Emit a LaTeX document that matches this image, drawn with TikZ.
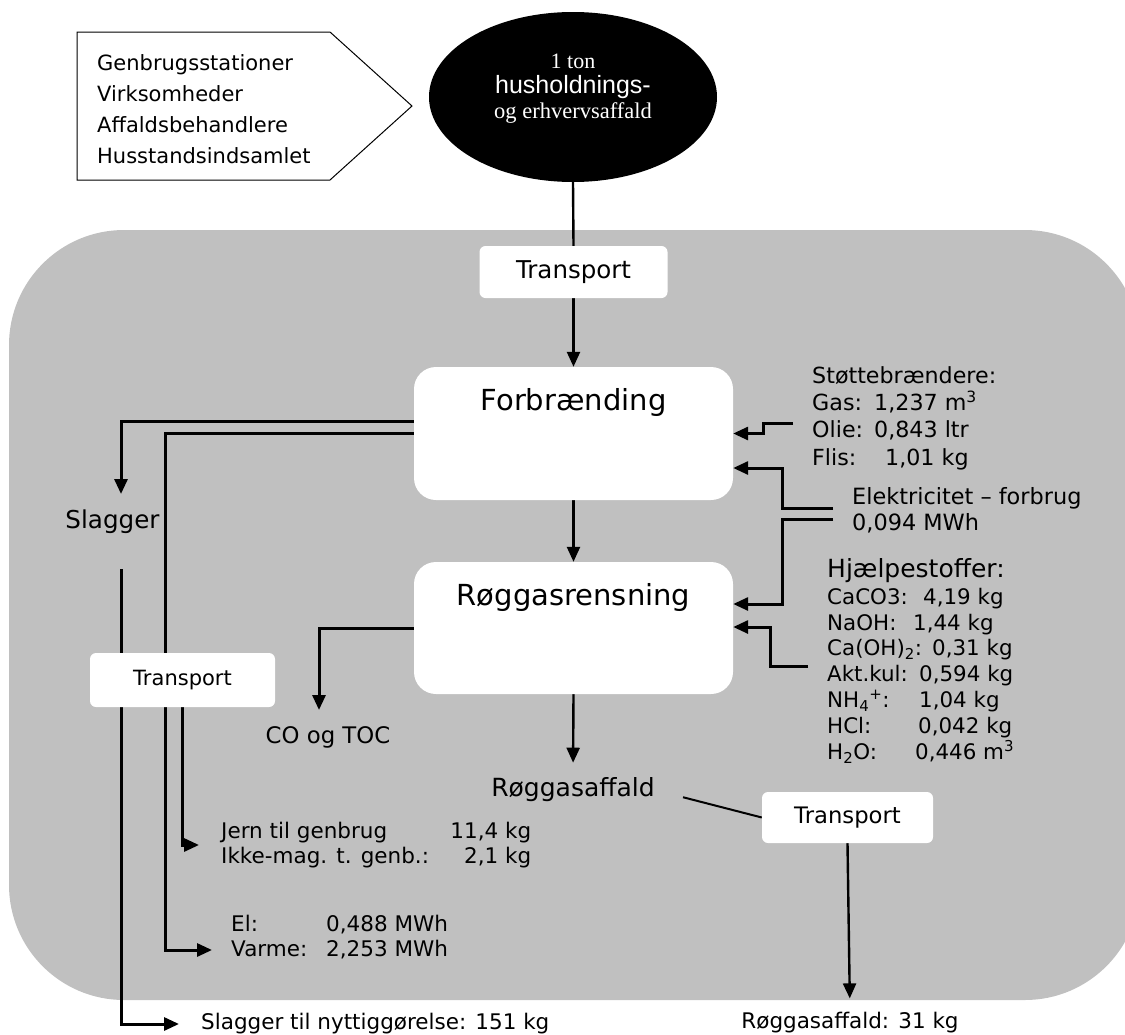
\documentclass[tikz,border=0pt]{standalone}
\usepackage{fontspec}
\setmainfont{DejaVu Sans}
\newfontfamily\serifE{Liberation Serif}
\newfontfamily\sansE{Liberation Sans}
\usetikzlibrary{shapes.geometric,arrows.meta,calc}
\definecolor{bggray}{RGB}{192,192,192}
\newcommand{\myfs}[2]{\fontsize{#1}{#2}\selectfont}
\pgfdeclarelayer{bglayer}
\pgfdeclarelayer{linelayer}
\pgfsetlayers{bglayer,linelayer,main}
\tikzset{
  conn/.style={line width=2.4pt},
  arr/.style={conn,-{Triangle[length=15pt,width=13pt]}},
  sideconn/.style={line width=3pt,-{Triangle[length=15pt,width=13pt]}},
  pbox/.style={fill=white,rounded corners=22pt,inner sep=0pt},
  tbox/.style={fill=white,rounded corners=6pt,inner sep=0pt},
  txt/.style={inner sep=0pt,anchor=west,align=left},
  ctxt/.style={inner sep=0pt},
}
\begin{document}
\begin{tikzpicture}[x=1pt,y=-1pt]
\path[use as bounding box] (0,0) rectangle (1125,1034);
\begin{pgfonlayer}{bglayer}
  \begin{scope}
    \clip (0,0) rectangle (1125,1034);
    \fill[bggray,rounded corners=115pt] (9,230) rectangle (1140,1000);
  \end{scope}
\end{pgfonlayer}

% source pentagon
\draw[line width=1pt,fill=white] (77,32) -- (330,32) -- (412,106) -- (330,180) -- (77,180) -- cycle;
\node[txt,font=\myfs{21}{31}] (src) at (97,109.5) {Genbrugsstationer\\Virksomheder\\Affaldsbehandlere\\Husstandsindsamlet};

% waste ellipse
\node[ellipse,fill=black,minimum width=288pt,minimum height=170pt,inner sep=0pt] (waste) at (573,97) {};
\node[ctxt,white,font=\serifE\myfs{22}{26}] (w1) at (573,61) {1 ton};
\node[ctxt,white,font=\sansE\myfs{25}{29}] (w2) at (573,87) {husholdnings-};
\node[ctxt,white,font=\serifE\myfs{22.5}{26}] (w3) at (573,113) {og erhvervsaffald};

% boxes
\node[tbox,minimum width=188pt,minimum height=52pt,font=\myfs{24.5}{29}] (t1) at (573.5,272) {Transport};
\node[pbox,minimum width=319pt,minimum height=133pt] (forb) at (573.5,433.5) {};
\node[ctxt,font=\myfs{29}{34}] (forbt) at (573.5,402) {Forbrænding};
\node[pbox,minimum width=319pt,minimum height=132pt] (rog) at (573.5,628) {};
\node[ctxt,font=\myfs{29}{34}] (rogt) at (573.5,597) {Røggasrensning};
\node[tbox,minimum width=185pt,minimum height=54pt,font=\myfs{21}{25}] (tl) at (182.5,680) {Transport};
\node[tbox,minimum width=171pt,minimum height=51pt,font=\myfs{22.7}{27}] (t3) at (847.5,817.5) {Transport};

% texts
\node[ctxt,font=\myfs{24.6}{29}] (slag) at (112.5,522) {Slagger};
\node[ctxt,font=\myfs{22.8}{27}] (co) at (328,737) {CO og TOC};
\node[ctxt,font=\myfs{25}{30}] (raff) at (573,790) {Røggasaffald};
\node[ctxt,font=\myfs{21.5}{26}] (raff2) at (850,1023) {Røggasaffald: 31 kg};
\node[txt,font=\myfs{21.5}{25}] (jern) at (221,845) {\makebox[310pt][l]{Jern til genbrug\hfill 11,4 kg}\\\makebox[310pt][l]{Ikke-mag. t. genb.:\hfill 2,1 kg}};
\node[txt,font=\myfs{21.5}{25}] (el) at (231,925) {\makebox[95pt][l]{El:}0,488 MWh};
\node[txt,font=\myfs{21.5}{25}] (varme) at (231,950) {\makebox[95pt][l]{Varme:}2,253 MWh};
\node[txt,font=\myfs{21.5}{25}] (nytt) at (201,1024) {Slagger til nyttiggørelse: 151 kg};
\node[txt,font=\myfs{22.2}{27.3}] (stotte) at (812,418) {Støttebrændere:\\\makebox[62pt][l]{Gas:}1,237 m\textsuperscript{3}\\\makebox[62pt][l]{Olie:}0,843 ltr\\\makebox[73pt][l]{Flis:}1,01 kg};
\node[txt,font=\myfs{22.4}{26}] (elek) at (852,510) {Elektricitet – forbrug\\0,094 MWh};
\node[txt,font=\myfs{25}{30}] (hjaelp) at (827,571) {Hjælpestoffer:};
\node[txt,font=\myfs{21.4}{25.8}] (hlist) at (827,675.5) {\makebox[96pt][l]{CaCO3:}4,19 kg\\
\makebox[86pt][l]{NaOH:}1,44 kg\\
\makebox[105pt][l]{Ca(OH)\textsubscript{2}:}0,31 kg\\
\makebox[92pt][l]{Akt.kul:}0,594 kg\\
\makebox[92pt][l]{NH\textsubscript{4}\textsuperscript{+}:}1,04 kg\\
\makebox[91pt][l]{HCl:}0,042 kg\\
\makebox[88pt][l]{H\textsubscript{2}O:}0,446 m\textsuperscript{3}};

% free connector ends
\coordinate (slagin) at (121,494);
\coordinate (slagout) at (121,569);
\coordinate (varmec) at (165,950);
\coordinate (coin) at (319,710);
\coordinate (gs) at (793,423);
\coordinate (e1) at (833,508);
\coordinate (e2) at (833,519);
\coordinate (h1) at (808,666);

\begin{pgfonlayer}{linelayer}
  \draw[conn] (waste.south) -- (t1.north);
  \draw[arr] (t1.south) -- (forb.north);
  \draw[arr] (forb.south) -- (rog.north);
  \draw[arr,shorten >=15pt] (rog.south) -- (raff.north);
  \draw[line width=2pt,shorten <=29pt] (raff.east) -- (t3.west);
  \draw[arr,shorten >=14pt] (t3.south) -- (raff2.north);
  % left side
  \draw[sideconn] ($(forb.west)+(0,-12.5)$) -| (slagin);
  \draw[sideconn,shorten >=19pt] (forb.west) -| (varmec) -- (varme.west);
  \draw[sideconn,shorten >=22pt] (slagout) |- (nytt.west);
  \draw[sideconn,shorten >=22pt] (tl.south) |- (jern.west);
  \draw[sideconn] (rog.west) -| (coin);
  % right side
  \draw[sideconn] (gs) -| ($(forb.east)+(30,0)$) -- (forb.east);
  \draw[sideconn] (e1) -| ($(forb.east)+(49,34.5)$) -- ($(forb.east)+(0,34.5)$);
  \draw[sideconn] (e2) -| ($(rog.east)+(49,-24)$) -- ($(rog.east)+(0,-24)$);
  \draw[sideconn] (h1) -| ($(rog.east)+(37,-1)$) -- ($(rog.east)+(0,-1)$);
\end{pgfonlayer}
\end{tikzpicture}
\end{document}
